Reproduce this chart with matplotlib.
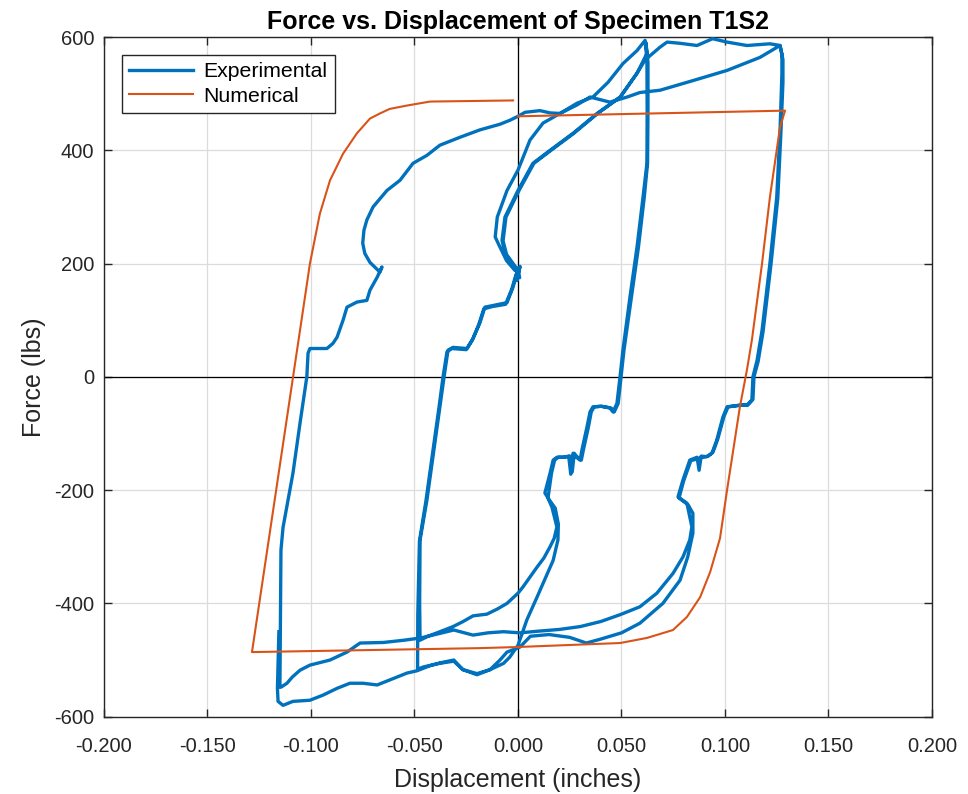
#!/usr/bin/env python3
"""Force vs. displacement hysteresis of specimen T1S2 (experiment vs numerical model)."""

import matplotlib

matplotlib.use("Agg")

import matplotlib.pyplot as plt
import numpy as np
from matplotlib.ticker import FormatStrFormatter, MultipleLocator


# experimental trace, cycle by cycle (displacement in inches, force in lbs)
# small cycle 1, loading towards +0.06
S1_POS_X = [0.0, 0.001, -0.0005, 0.0, -0.0015, -0.0055, -0.0087, -0.011, -0.0105, -0.010,
            -0.0053, 0.0, 0.0058, 0.0121, 0.0203, 0.0285, 0.0362, 0.0435, 0.0507, 0.0575, 0.0614]
S1_POS_Y = [180, 195, 170, 190, 188, 205, 229, 247, 265, 282,
            329, 365, 418, 448, 465, 483, 494, 520, 553, 576, 594]
# small cycle 1, unloading towards -0.048
S1_NEG_X = [0.0614, 0.0623, 0.0624, 0.0623, 0.0604, 0.0575, 0.0541, 0.0507, 0.0493, 0.0478,
            0.0459, 0.0444, 0.040, 0.0362, 0.0348, 0.0333, 0.0309, 0.030, 0.0275, 0.0266,
            0.0255, 0.0245, 0.0217, 0.0188, 0.017, 0.0155, 0.013, 0.0145, 0.0164, 0.0188,
            0.0175, 0.0155, 0.0125, 0.0092, 0.0055, 0.0024, 0.0, -0.0053, -0.010, -0.015,
            -0.0217, -0.0265, -0.0314, -0.0377, -0.0435, -0.0473]
S1_NEG_Y = [594, 560, 470, 377, 317, 229, 141, 47, 0, -47,
            -62, -55, -52, -53, -62, -89, -129, -147, -140, -135,
            -172, -140, -142, -142, -147, -170, -205, -214, -230, -265,
            -285, -300, -320, -336, -355, -371, -382, -400, -410, -419,
            -422, -432, -441, -450, -458, -465]
# small cycle 2
S2_POS_X = [-0.0473, -0.0475, -0.0473, -0.044, -0.0377, -0.0357, -0.0338, -0.0314, -0.0246, -0.0217,
            -0.0184, -0.016, -0.012, -0.0053, -0.0024, -0.0005, 0.0008, -0.0002, 0.0, -0.0063,
            -0.0077, -0.0063, 0.0, 0.0072, 0.0155, 0.0266, 0.0382, 0.0493, 0.0575, 0.0623, 0.0618]
S2_POS_Y = [-465, -400, -288, -218, -53, 0, 47, 52, 50, 68,
            95, 123, 126, 131, 158, 183, 175, 192, 183, 218,
            241, 282, 329, 377, 400, 430, 465, 494, 536, 571, 590]
S2_NEG_X = [0.0618, 0.0628, 0.0628, 0.0626, 0.0610, 0.0582, 0.0548, 0.0512, 0.0498, 0.0484,
            0.0465, 0.0450, 0.0405, 0.0368, 0.0354, 0.0340, 0.0316, 0.0306, 0.0282, 0.0272,
            0.0262, 0.0252, 0.0224, 0.0195, 0.0177, 0.0162, 0.0145, 0.018, 0.0195, 0.0193,
            0.017, 0.0092, 0.0043, 0.0, -0.004, -0.007, -0.0135, -0.0198, -0.0266, -0.031,
            -0.038, -0.0455, -0.0485]
S2_NEG_Y = [590, 555, 470, 377, 317, 229, 141, 47, 0, -47,
            -62, -55, -52, -53, -62, -89, -129, -147, -140, -135,
            -168, -140, -142, -142, -147, -170, -214, -232, -260, -288,
            -324, -389, -429, -474, -495, -506, -517, -524, -517, -502,
            -506, -512, -516]
# large cycle 1
L1_POS_X = [-0.0485, -0.0484, -0.0476, -0.0445, -0.0382, -0.0362, -0.0343, -0.032, -0.025, -0.022,
            -0.019, -0.0165, -0.0125, -0.006, -0.003, -0.001, 0.0, -0.0055, -0.0072, -0.0058,
            0.0005, 0.0077, 0.016, 0.027, 0.0385, 0.0495, 0.0575, 0.0615, 0.0635, 0.0686,
            0.072, 0.078, 0.0865, 0.094, 0.101, 0.1106, 0.1217, 0.1266]
L1_POS_Y = [-516, -420, -290, -220, -55, 0, 44, 50, 48, 65,
            92, 120, 124, 128, 155, 180, 188, 216, 240, 282,
            329, 377, 400, 430, 465, 494, 536, 560, 566, 582,
            591, 589, 585, 597, 591, 585, 588, 585]
L1_NEG_X = [0.1266, 0.1275, 0.1275, 0.1266, 0.125, 0.1217, 0.1179, 0.1155, 0.1135, 0.113,
            0.1106, 0.1072, 0.101, 0.099, 0.096, 0.0937, 0.0913, 0.0885, 0.0875, 0.0865,
            0.083, 0.0797, 0.0773, 0.0816, 0.083, 0.084, 0.083, 0.0797, 0.0749, 0.0671,
            0.0589, 0.0493, 0.040, 0.030, 0.020, 0.010, 0.001, -0.007, -0.0145, -0.0217,
            -0.031, -0.040, -0.047, -0.055, -0.065, -0.0763, -0.0826, -0.0908, -0.1005, -0.1053,
            -0.109, -0.1116, -0.1145]
L1_NEG_Y = [585, 570, 535, 435, 317, 200, 82, 29, 0, -41,
            -50, -50, -53, -71, -112, -135, -141, -140, -165, -142,
            -147, -182, -212, -223, -247, -265, -288, -318, -347, -382,
            -406, -420, -432, -441, -446, -449, -452, -450, -452, -456,
            -447, -455, -461, -465, -469, -470, -486, -500, -509, -518,
            -530, -541, -548]
# large cycle 2
L2_POS_X = [-0.115, -0.1148, -0.1145, -0.1135, -0.1087, -0.1053, -0.102, -0.1014, -0.1005, -0.0923,
            -0.0894, -0.0874, -0.0845, -0.0826, -0.081, -0.0778, -0.073, -0.0715, -0.068, -0.0657,
            -0.0667, -0.0715, -0.074, -0.075, -0.0744, -0.073, -0.070, -0.0633, -0.057, -0.0507,
            -0.044, -0.0377, -0.028, -0.0184, -0.0087, -0.0039, 0.0, 0.0034, 0.0106, 0.0155,
            0.0203, 0.0285, 0.0348, 0.0444, 0.0527, 0.0589, 0.0686, 0.0845, 0.101, 0.1169, 0.1266]
L2_POS_Y = [-548, -450, -306, -266, -170, -82, 0, 42, 50, 50,
            59, 70, 100, 123, 126, 132, 135, 153, 176, 194,
            185, 202, 218, 236, 259, 277, 300, 329, 347, 377,
            391, 409, 423, 436, 446, 453, 460, 467, 470, 466,
            465, 480, 494, 485, 494, 502, 506, 523, 541, 564, 585]
L2_NEG_X = [0.1266, 0.128, 0.128, 0.127, 0.1255, 0.1222, 0.1184, 0.116, 0.114, 0.1135,
            0.111, 0.1078, 0.1015, 0.0995, 0.0965, 0.0942, 0.0918, 0.0895, 0.0835, 0.080,
            0.0778, 0.0822, 0.0845, 0.0845, 0.082, 0.0783, 0.070, 0.0589, 0.050, 0.040,
            0.033, 0.025, 0.015, 0.006, 0.001, -0.0053, -0.0087, -0.0135, -0.0198, -0.0266,
            -0.031, -0.0377, -0.0425, -0.0488, -0.0536, -0.0618, -0.068, -0.0749, -0.0812, -0.0874,
            -0.0942, -0.1005, -0.1087, -0.1135, -0.1159, -0.1162, -0.1155]
L2_NEG_Y = [585, 560, 520, 430, 315, 198, 80, 27, 0, -40,
            -50, -50, -53, -70, -110, -133, -140, -142, -148, -184,
            -214, -226, -241, -276, -318, -359, -400, -435, -452, -463,
            -470, -460, -455, -458, -477, -486, -500, -517, -526, -517,
            -500, -505, -510, -519, -523, -535, -544, -541, -541, -550,
            -562, -571, -573, -580, -573, -550, -450]

# numerical model
NUM_X = [-0.0024, -0.0425, -0.0536, -0.0620, -0.0667, -0.0715, -0.0778, -0.0845, -0.0908, -0.0957,
         -0.1005, -0.1053, -0.1285, -0.0184, 0.0, 0.0493, 0.0623, 0.0749, 0.0816, 0.088,
         0.0928, 0.0976, 0.101, 0.104, 0.1072, 0.1106, 0.113, 0.1179, 0.1217, 0.1266,
         0.129, 0.0]
NUM_Y = [488, 486, 479, 473, 465, 456, 430, 394, 347, 288,
         200, 82, -486, -479, -477, -470, -461, -447, -424, -389,
         -345, -285, -200, -129, -53, 12, 65, 200, 317, 441,
         470, 460]

EXP_SEGMENTS = [
    (S1_POS_X, S1_POS_Y), (S1_NEG_X, S1_NEG_Y),
    (S2_POS_X, S2_POS_Y), (S2_NEG_X, S2_NEG_Y),
    (L1_POS_X, L1_POS_Y), (L1_NEG_X, L1_NEG_Y),
    (L2_POS_X, L2_POS_Y), (L2_NEG_X, L2_NEG_Y),
]

BLUE = "#0072bd"
ORANGE = "#d95319"
INK = "#262626"


def main() -> None:
    plt.rcParams.update(
        {
            "font.family": ["Liberation Sans", "DejaVu Sans"],
            "axes.unicode_minus": False,
            "axes.edgecolor": INK,
            "xtick.color": INK,
            "ytick.color": INK,
        }
    )

    exp_x = np.concatenate([np.asarray(x, dtype=float) for x, _ in EXP_SEGMENTS])
    exp_y = np.concatenate([np.asarray(y, dtype=float) for _, y in EXP_SEGMENTS])

    fig = plt.figure(figsize=(9.68, 7.94), dpi=100)
    ax = fig.add_axes([0.1074, 0.0974, 0.8554, 0.856])

    ax.axhline(0, color="black", linewidth=0.9, zorder=1)
    ax.axvline(0, color="black", linewidth=0.9, zorder=1)
    ax.plot(exp_x, exp_y, color=BLUE, linewidth=2.4, solid_joinstyle="round",
            label="Experimental", zorder=3)
    ax.plot(NUM_X, NUM_Y, color=ORANGE, linewidth=1.5, label="Numerical", zorder=4)

    ax.set_xlim(-0.2, 0.2)
    ax.set_ylim(-600, 600)
    ax.xaxis.set_major_locator(MultipleLocator(0.05))
    ax.yaxis.set_major_locator(MultipleLocator(200))
    ax.xaxis.set_major_formatter(FormatStrFormatter("%.3f"))
    ax.grid(True, color="#dcdcdc", linewidth=0.9)
    ax.set_axisbelow(True)
    ax.tick_params(direction="in", length=6, width=1.0, top=True, right=True,
                   labelsize=14.5)
    ax.tick_params(axis="x", pad=15)
    ax.tick_params(axis="y", pad=7)
    for spine in ax.spines.values():
        spine.set_linewidth(1.0)

    ax.set_xlabel("Displacement (inches)", fontsize=18, color=INK, labelpad=8)
    ax.set_ylabel("Force (lbs)", fontsize=18, color=INK, labelpad=6)
    ax.set_title("Force vs. Displacement of Specimen T1S2", fontsize=18,
                 fontweight="bold", color="black", pad=6)

    leg = ax.legend(loc="upper left", bbox_to_anchor=(0.0217, 0.9735), borderaxespad=0,
                    fontsize=15.3, handlelength=3.0, frameon=True, fancybox=False,
                    framealpha=1, edgecolor=INK, borderpad=0.35, labelspacing=0.25,
                    handletextpad=0.5)
    leg.get_frame().set_linewidth(1.0)

    fig.savefig("out.png", dpi=100)
    plt.close(fig)


if __name__ == "__main__":
    main()
